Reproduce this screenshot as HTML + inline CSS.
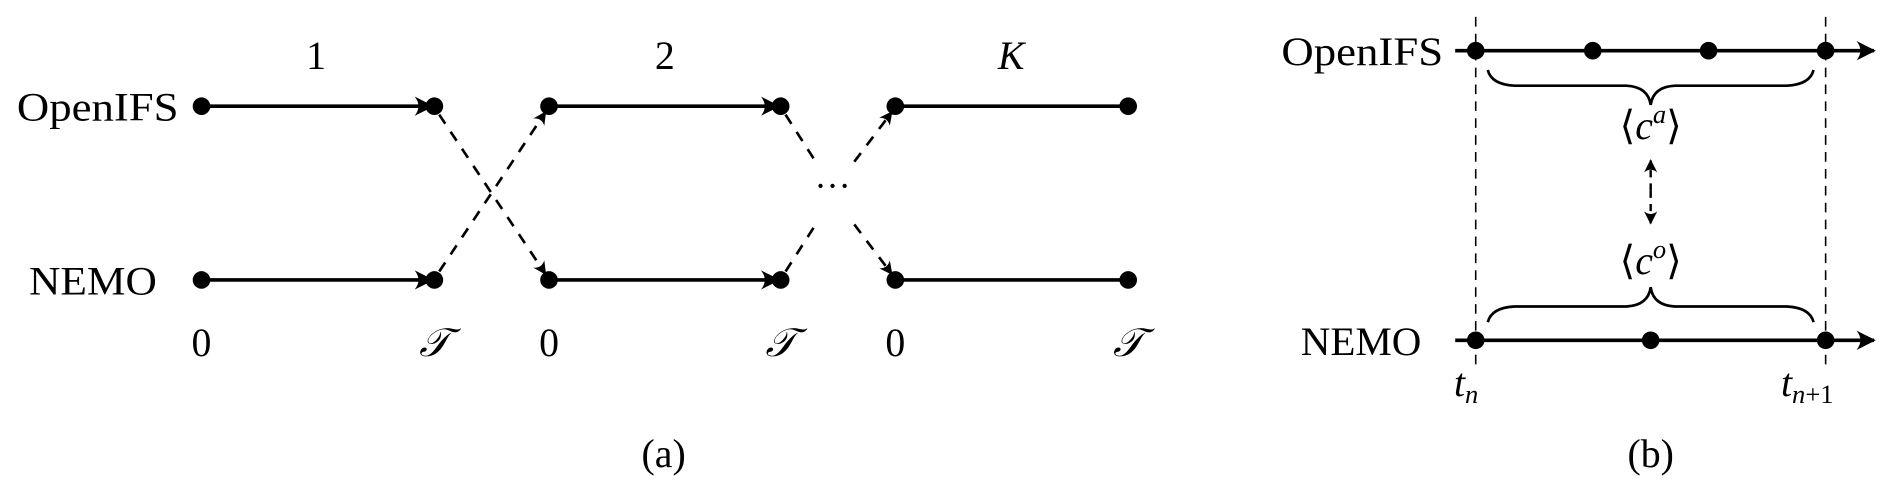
<!DOCTYPE html>
<html><head><meta charset="utf-8"><style>
html,body{margin:0;padding:0;background:#fff;}
svg{display:block;}
text{font-family:"Liberation Serif",serif;fill:#000;}
</style></head><body>
<svg width="1892" height="488" viewBox="0 0 1568 404.4" xmlns="http://www.w3.org/2000/svg">
<defs>
<marker id="ah2" viewBox="0 0 10 10" refX="9" refY="5" markerWidth="16" markerHeight="16" orient="auto" markerUnits="userSpaceOnUse">
<path d="M0,0 Q4,5 0,10 L10,5 Z" fill="#000"/></marker>
<marker id="ah3" viewBox="0 0 10 10" refX="9" refY="5" markerWidth="11" markerHeight="11" orient="auto" markerUnits="userSpaceOnUse">
<path d="M0,0 Q4,5 0,10 L10,5 Z" fill="#000"/></marker>
</defs>
<g font-size="33">
<text x="262" y="57" text-anchor="middle">1</text>
<text x="551" y="57" text-anchor="middle">2</text>
<text x="838" y="57" text-anchor="middle" font-style="italic">K</text>
<text x="14" y="100" textLength="134" lengthAdjust="spacingAndGlyphs">OpenIFS</text>
<text x="24" y="244" textLength="106" lengthAdjust="spacingAndGlyphs">NEMO</text>
<text x="167" y="295" text-anchor="middle">0</text>
<text x="455" y="295" text-anchor="middle">0</text>
<text x="742" y="295" text-anchor="middle">0</text>
<text x="360" y="295" text-anchor="middle" font-style="italic">𝒯</text>
<text x="647" y="295" text-anchor="middle" font-style="italic">𝒯</text>
<text x="935" y="295" text-anchor="middle" font-style="italic">𝒯</text>
<text x="550" y="387" text-anchor="middle">(a)</text>
</g>
<g stroke="#000" stroke-width="3" fill="none">
<line x1="167" y1="88" x2="358" y2="88" marker-end="url(#ah2)"/>
<line x1="167" y1="232" x2="358" y2="232" marker-end="url(#ah2)"/>
<line x1="455" y1="88" x2="645" y2="88" marker-end="url(#ah2)"/>
<line x1="455" y1="232" x2="645" y2="232" marker-end="url(#ah2)"/>
<line x1="742" y1="88" x2="933" y2="88"/>
<line x1="742" y1="232" x2="933" y2="232"/>
</g>
<g stroke="#000" stroke-width="2.2" fill="none" stroke-dasharray="9,8">
<line x1="364" y1="95" x2="452" y2="227" marker-end="url(#ah3)"/>
<line x1="364" y1="225" x2="452" y2="93" marker-end="url(#ah3)"/>
<line x1="651" y1="95" x2="676" y2="134"/>
<line x1="651" y1="225" x2="676" y2="186"/>
<line x1="708" y1="134" x2="739" y2="93" marker-end="url(#ah3)"/>
<line x1="708" y1="186" x2="739" y2="227" marker-end="url(#ah3)"/>
</g>
<text x="690" y="164" font-size="30" text-anchor="middle">···</text>
<g fill="#000">
<circle cx="167" cy="88" r="7.3"/><circle cx="360" cy="88" r="7.3"/><circle cx="455" cy="88" r="7.3"/><circle cx="647" cy="88" r="7.3"/><circle cx="742" cy="88" r="7.3"/><circle cx="935" cy="88" r="7.3"/>
<circle cx="167" cy="232" r="7.3"/><circle cx="360" cy="232" r="7.3"/><circle cx="455" cy="232" r="7.3"/><circle cx="647" cy="232" r="7.3"/><circle cx="742" cy="232" r="7.3"/><circle cx="935" cy="232" r="7.3"/>
</g>
<g stroke="#000" stroke-width="1.3" stroke-dasharray="8,6" fill="none">
<line x1="1223" y1="14" x2="1223" y2="306"/>
<line x1="1513" y1="14" x2="1513" y2="306"/>
</g>
<g stroke="#000" stroke-width="3" fill="none">
<line x1="1206" y1="42" x2="1553" y2="42" marker-end="url(#ah2)"/>
<line x1="1206" y1="282" x2="1553" y2="282" marker-end="url(#ah2)"/>
</g>
<g stroke="#000" stroke-width="2.2" fill="none">
<path d="M1233,58 Q1236,70 1255,71 L1348,71 Q1366,72 1368,87 Q1370,72 1388,71 L1481,71 Q1500,70 1503,58"/>
<path d="M1233,267 Q1236,255 1255,254 L1348,254 Q1366,253 1368,238 Q1370,253 1388,254 L1481,254 Q1500,255 1503,267"/>
</g>
<g stroke="#000" stroke-width="2" fill="none" stroke-dasharray="6,5">
<line x1="1368" y1="158" x2="1368" y2="133" marker-end="url(#ah3)"/>
<line x1="1368" y1="158" x2="1368" y2="185" marker-end="url(#ah3)"/>
</g>
<g fill="#000">
<circle cx="1223" cy="42" r="7.3"/><circle cx="1320" cy="42" r="7.3"/><circle cx="1416" cy="42" r="7.3"/><circle cx="1513" cy="42" r="7.3"/>
<circle cx="1223" cy="282" r="7.3"/><circle cx="1368" cy="282" r="7.3"/><circle cx="1513" cy="282" r="7.3"/>
</g>
<g font-size="33">
<text x="1062" y="54" textLength="134" lengthAdjust="spacingAndGlyphs">OpenIFS</text>
<text x="1078" y="294" textLength="100" lengthAdjust="spacingAndGlyphs">NEMO</text>
<text x="1368" y="115" text-anchor="middle">⟨<tspan font-style="italic">c</tspan><tspan font-size="22" dy="-13" font-style="italic">a</tspan><tspan dy="13">⟩</tspan></text>
<text x="1368" y="227" text-anchor="middle">⟨<tspan font-style="italic">c</tspan><tspan font-size="22" dy="-13" font-style="italic">o</tspan><tspan dy="13">⟩</tspan></text>
<text x="1205" y="328" font-style="italic">t<tspan font-size="22" dy="6">n</tspan></text>
<text x="1476" y="328" font-style="italic">t<tspan font-size="22" dy="6">n</tspan><tspan font-size="22" font-style="normal">+1</tspan></text>
<text x="1368" y="387" text-anchor="middle">(b)</text>
</g>
</svg>
</body></html>
